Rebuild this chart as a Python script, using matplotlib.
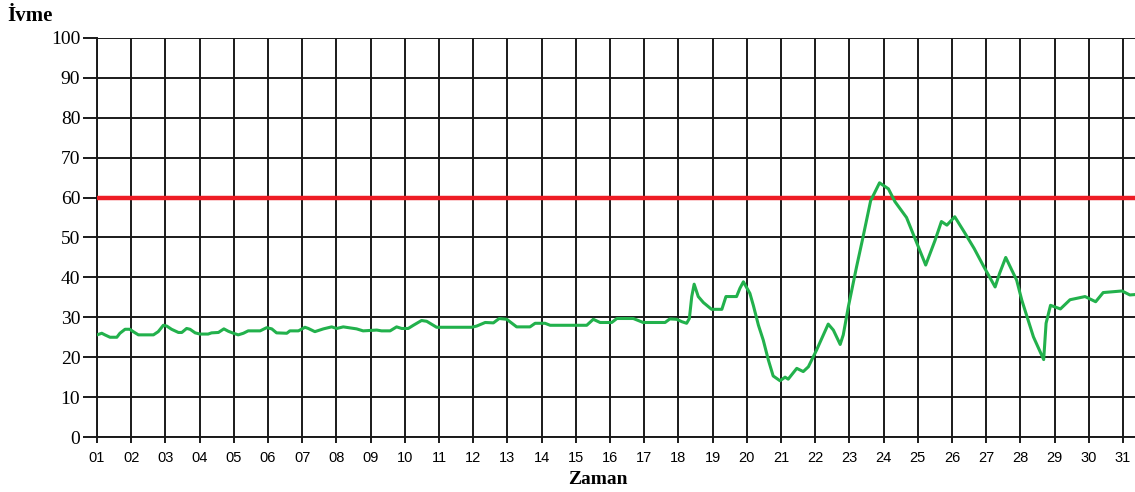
import matplotlib
matplotlib.use("Agg")
import matplotlib.pyplot as plt

# time in days (fractional), acceleration values
days = [1.00, 1.14, 1.23, 1.38, 1.58, 1.67, 1.82, 1.96, 2.06, 2.21, 2.65, 2.79, 2.94, 3.04,
        3.18, 3.38, 3.48, 3.62, 3.72, 3.87, 4.01, 4.25, 4.35, 4.55, 4.71, 4.84, 4.99, 5.13,
        5.28, 5.42, 5.77, 5.96, 6.11, 6.25, 6.55, 6.64, 6.89, 7.08, 7.18, 7.37, 7.62, 7.86,
        8.01, 8.20, 8.59, 8.78, 9.18, 9.32, 9.57, 9.76, 9.91, 10.10, 10.25, 10.49, 10.64,
        10.93, 11.95, 12.10, 12.35, 12.59, 12.76, 12.98, 13.27, 13.66, 13.81, 14.10, 14.25,
        15.32, 15.51, 15.71, 16.05, 16.20, 16.68, 16.97, 17.61, 17.75, 17.95, 18.10, 18.24,
        18.32, 18.39, 18.46, 18.58, 18.73, 18.97, 19.27, 19.39, 19.70, 19.80, 19.90, 20.09,
        20.19, 20.34, 20.48, 20.63, 20.77, 20.97, 21.12, 21.21, 21.46, 21.65, 21.80, 22.04,
        22.38, 22.53, 22.73, 22.82, 22.97, 23.11, 23.21, 23.38, 23.62, 23.88, 24.14, 24.33,
        24.67, 24.96, 25.23, 25.50, 25.69, 25.85, 26.08, 26.37, 26.65, 26.91, 27.26, 27.39,
        27.57, 27.89, 28.04, 28.38, 28.68, 28.75, 28.88, 29.17, 29.45, 29.89, 30.20, 30.42,
        30.97, 31.20, 31.35]
ivme = [25.6, 26.0, 25.6, 25.0, 25.0, 26.0, 27.0, 27.0, 26.4, 25.6, 25.6, 26.4, 28.0, 27.8,
        27.0, 26.2, 26.2, 27.2, 27.0, 26.1, 25.8, 25.8, 26.1, 26.2, 27.1, 26.5, 26.0, 25.6,
        26.0, 26.6, 26.6, 27.4, 27.1, 26.1, 26.0, 26.6, 26.6, 27.5, 27.2, 26.4, 27.1, 27.6,
        27.2, 27.6, 27.1, 26.6, 26.8, 26.6, 26.6, 27.6, 27.2, 27.2, 28.0, 29.2, 29.0,
        27.5, 27.5, 27.8, 28.7, 28.6, 29.7, 29.5, 27.6, 27.6, 28.5, 28.5, 28.0,
        28.0, 29.5, 28.7, 28.7, 29.7, 29.7, 28.7, 28.7, 29.6, 29.5, 28.9, 28.5,
        29.7, 35.2, 38.3, 35.2, 33.7, 32.0, 32.0, 35.2, 35.2, 37.3, 38.9, 36.0,
        33.0, 28.0, 24.3, 19.3, 15.3, 14.1, 15.0, 14.5, 17.2, 16.4, 17.6, 21.8,
        28.3, 26.8, 23.2, 25.6, 32.7, 38.5, 42.7, 49.4, 59.2, 63.7, 62.2, 59.0,
        55.0, 48.8, 43.1, 49.2, 54.0, 53.1, 55.2, 51.2, 47.2, 43.0, 37.6, 41.0,
        45.0, 39.3, 34.3, 25.1, 19.4, 28.5, 33.0, 32.1, 34.4, 35.2, 33.9, 36.2,
        36.6, 35.6, 35.7]

limit_value = 60
day_ticks = list(range(1, 32))
day_labels = [f"{d:02d}" for d in day_ticks]
y_ticks = list(range(0, 101, 10))

fig = plt.figure(figsize=(11.35, 4.92), dpi=100)
ax = fig.add_axes([97 / 1135, 1 - 437 / 492, 1 - 97 / 1135, (437 - 38) / 492])

ax.set_xlim(1, 31.35)
ax.set_ylim(0, 100)
ax.set_xticks(day_ticks)
ax.set_xticklabels(day_labels, family="Liberation Sans", fontsize=10.5)
ax.set_yticks(y_ticks)
ax.set_yticklabels([str(v) for v in y_ticks], family="Liberation Serif", fontsize=14)

ax.grid(True, color="#1a1a1a", linewidth=1.4)
ax.set_axisbelow(True)
for s in ["top", "right"]:
    ax.spines[s].set_visible(False)
for s in ["left", "bottom"]:
    ax.spines[s].set_color("#1a1a1a")
    ax.spines[s].set_linewidth(1.4)

ax.tick_params(axis="y", length=10, width=1.4, color="#1a1a1a", pad=2)
ax.tick_params(axis="x", length=4, width=1.4, color="#1a1a1a", pad=6)

ax.axhline(limit_value, color="#ee1c25", linewidth=3.2, zorder=3)
ax.plot(days, ivme, color="#22b14c", linewidth=2.2, zorder=4)

fig.text(7 / 1135, 1 - 16 / 492, "İvme", family="Liberation Serif", fontweight="bold",
         fontsize=15, ha="left", va="center")
fig.text(598 / 1135, 1 - 480 / 492, "Zaman", family="Liberation Serif", fontweight="bold",
         fontsize=14, ha="center", va="center")

fig.savefig("out.png", dpi=100)
